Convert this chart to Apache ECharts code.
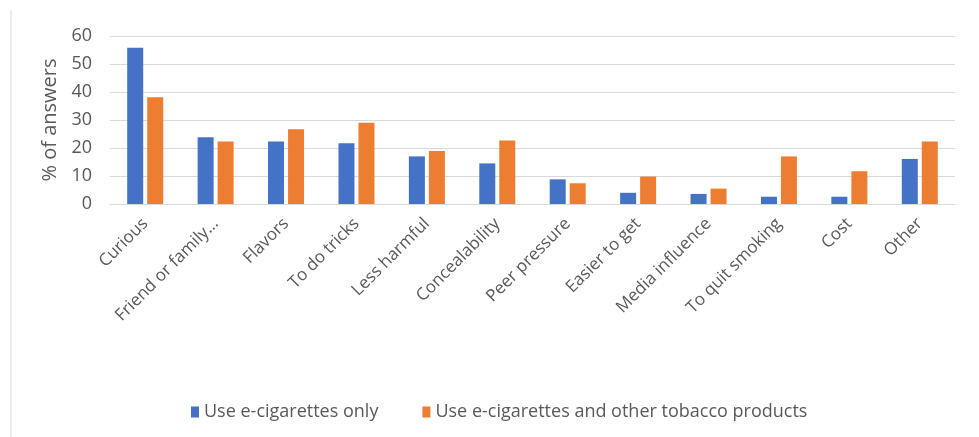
<!doctype html>
<html>
<head>
<meta charset="UTF-8">
<title>Reasons for e-cigarette use</title>
<script src="https://cdn.jsdelivr.net/npm/echarts@6/dist/echarts.min.js"></script>
<style>
  html, body { margin: 0; padding: 0; background: #fff; }
</style>
</head>
<body>
<div id="chart" style="width: 979px; height: 437px;"></div>
<script>
  var categories = ['Curious', 'Friend or family…', 'Flavors', 'To do tricks', 'Less harmful',
    'Concealability', 'Peer pressure', 'Easier to get', 'Media influence', 'To quit smoking',
    'Cost', 'Other'];
  var eCigOnly = [55.8, 23.8, 22.3, 21.7, 17.0, 14.5, 8.8, 4.0, 3.6, 2.6, 2.6, 16.1];
  var eCigAndOther = [38.1, 22.3, 26.7, 29.0, 18.9, 22.7, 7.4, 9.8, 5.5, 17.0, 11.7, 22.3];
  var seriesNames = ['Use e-cigarettes only', 'Use e-cigarettes and other tobacco products'];

  var font = '"Open Sans", "DejaVu Sans", sans-serif';
  var myChart = echarts.init(document.getElementById('chart'));

  myChart.setOption({
    animation: false,
    color: ['#4472C4', '#ED7D31'],
    grid: { left: 110, right: 24, top: 36, bottom: 233 },
    graphic: [{
      type: 'line',
      shape: { x1: 11, y1: 10, x2: 11, y2: 437 },
      style: { stroke: '#d9d9d9', lineWidth: 1 }
    }],
    legend: {
      top: 398,
      left: 186,
      itemWidth: 8,
      itemHeight: 11,
      itemGap: 44,
      icon: 'rect',
      textStyle: { color: '#595959', fontSize: 18, fontFamily: font },
      data: seriesNames
    },
    xAxis: {
      type: 'category',
      data: categories,
      axisLine: { lineStyle: { color: '#d9d9d9' } },
      axisTick: { show: false },
      axisLabel: {
        rotate: 45,
        interval: 0,
        margin: 17,
        color: '#595959',
        fontSize: 17,
        fontFamily: font
      }
    },
    yAxis: {
      type: 'value',
      min: 0,
      max: 60,
      interval: 10,
      name: '% of answers',
      nameLocation: 'middle',
      nameGap: 48,
      nameTextStyle: { color: '#595959', fontSize: 20, fontFamily: font },
      axisLine: { show: false },
      axisTick: { show: false },
      axisLabel: { color: '#595959', fontSize: 18, fontFamily: font, margin: 18 },
      splitLine: { lineStyle: { color: '#d9d9d9' } }
    },
    series: [
      {
        name: seriesNames[0],
        type: 'bar',
        data: eCigOnly,
        barWidth: 16,
        barGap: '25%'
      },
      {
        name: seriesNames[1],
        type: 'bar',
        data: eCigAndOther,
        barWidth: 16,
        barGap: '25%'
      }
    ]
  });
</script>
</body>
</html>
